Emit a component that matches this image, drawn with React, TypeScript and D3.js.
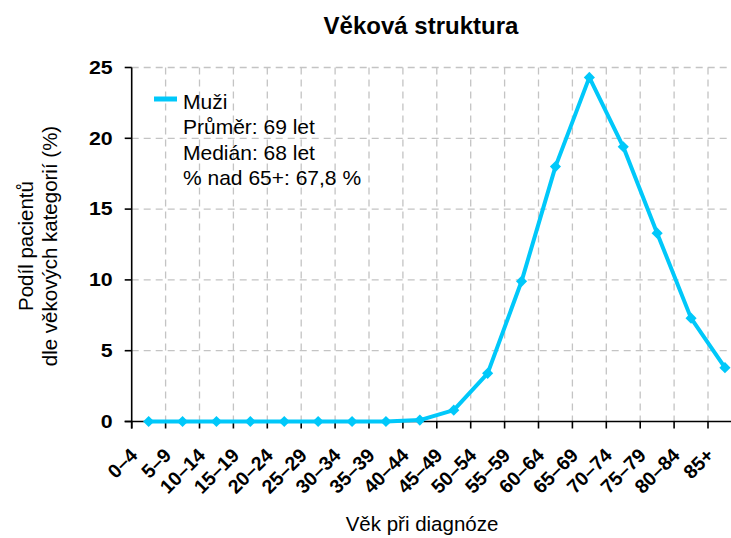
import React, { useEffect, useRef } from "react";
import * as d3 from "d3";

const categories = [
  "0–4", "5–9", "10–14", "15–19", "20–24", "25–29", "30–34", "35–39", "40–44",
  "45–49", "50–54", "55–59", "60–64", "65–69", "70–74", "75–79", "80–84", "85+",
];
const muzi = [0, 0, 0, 0, 0, 0, 0, 0, 0.1, 0.8, 3.4, 9.9, 18.0, 24.3, 19.4, 13.3, 7.3, 3.8];
const yTicks = [0, 5, 10, 15, 20, 25];
const legendLines = ["Průměr: 69 let", "Medián: 68 let", "% nad 65+: 67,8 %"];

const LINE_COLOR = "#00c8fa";
const GRID_COLOR = "#c4c4c4";
const FONT = "'Liberation Sans', Arial, sans-serif";

const App = () => {
  const ref = useRef<SVGSVGElement>(null);

  useEffect(() => {
    const svg = d3.select(ref.current);
    svg.selectAll("*").remove();

    const W = 731;
    const H = 538;
    const left = 131.7;
    const right = left + 18 * 33.9;
    const top = 67.5;
    const bottom = 421.5;

    svg.attr("width", W).attr("height", H).style("font-family", FONT);

    const x = d3.scaleBand().domain(categories).range([left, right]).padding(0);
    const y = d3.scaleLinear().domain([0, 25]).range([bottom, top]);
    const bw = x.bandwidth();

    // grid
    const grid = svg.append("g").attr("stroke", GRID_COLOR).attr("stroke-width", 1.3).attr("stroke-dasharray", "7,5");
    grid
      .selectAll("line.h")
      .data(yTicks.filter((t) => t > 0))
      .enter()
      .append("line")
      .attr("x1", left)
      .attr("x2", right)
      .attr("y1", (d) => y(d))
      .attr("y2", (d) => y(d));
    grid
      .selectAll("line.v")
      .data(categories.slice(1))
      .enter()
      .append("line")
      .attr("x1", (d) => x(d)!)
      .attr("x2", (d) => x(d)!)
      .attr("y1", top)
      .attr("y2", bottom);

    // axes
    const ax = svg.append("g").attr("stroke", "#000").attr("stroke-width", 1.6);
    ax.append("line").attr("x1", left).attr("x2", left).attr("y1", top).attr("y2", bottom + 7);
    ax.append("line").attr("x1", left - 7).attr("x2", right).attr("y1", bottom).attr("y2", bottom);
    ax.selectAll("line.yt")
      .data(yTicks)
      .enter()
      .append("line")
      .attr("x1", left - 7)
      .attr("x2", left)
      .attr("y1", (d) => y(d))
      .attr("y2", (d) => y(d));
    ax.selectAll("line.xt")
      .data(categories)
      .enter()
      .append("line")
      .attr("x1", (d) => x(d)!)
      .attr("x2", (d) => x(d)!)
      .attr("y1", bottom)
      .attr("y2", bottom + 7);

    svg
      .append("g")
      .selectAll("text")
      .data(yTicks)
      .enter()
      .append("text")
      .attr("transform", (d) => `translate(${left - 19},${y(d)}) scale(1.22,1)`)
      .attr("dy", "0.36em")
      .attr("text-anchor", "end")
      .attr("font-size", 17.5)
      .attr("font-weight", "bold")
      .text((d) => d);

    svg
      .append("g")
      .selectAll("text")
      .data(categories)
      .enter()
      .append("text")
      .attr("transform", (d) => `translate(${x(d)! + bw / 2 - 10},${bottom + 35}) rotate(-45)`)
      .attr("text-anchor", "end")
      .attr("font-size", 19.5)
      .attr("font-weight", "bold")
      .text((d) => d);

    // line + markers
    const pts = categories.map((c, i) => [x(c)! + bw / 2, y(muzi[i])] as [number, number]);
    svg
      .append("path")
      .attr("d", d3.line()(pts))
      .attr("fill", "none")
      .attr("stroke", LINE_COLOR)
      .attr("stroke-width", 4)
      .attr("stroke-linejoin", "round");
    svg
      .append("g")
      .selectAll("path")
      .data(pts)
      .enter()
      .append("path")
      .attr("d", d3.symbol(d3.symbolSquare, 62)())
      .attr("transform", (d) => `translate(${d[0]},${d[1]}) rotate(45)`)
      .attr("fill", LINE_COLOR);

    // legend
    svg
      .append("line")
      .attr("x1", 154)
      .attr("x2", 177)
      .attr("y1", 99)
      .attr("y2", 99)
      .attr("stroke", LINE_COLOR)
      .attr("stroke-width", 5);
    svg
      .append("g")
      .selectAll("text")
      .data(["Muži", ...legendLines])
      .enter()
      .append("text")
      .attr("x", 183)
      .attr("y", (d, i) => 108.5 + i * 25.5)
      .attr("font-size", 21)
      .text((d) => d);

    // titles
    svg
      .append("text")
      .attr("x", 421)
      .attr("y", 34)
      .attr("text-anchor", "middle")
      .attr("font-size", 24)
      .attr("font-weight", "bold")
      .text("Věková struktura");
    svg
      .append("text")
      .attr("x", 422)
      .attr("y", 531)
      .attr("text-anchor", "middle")
      .attr("font-size", 20.5)
      .text("Věk při diagnóze");
    const yt = svg.append("text").attr("transform", "translate(0,246) rotate(-90)").attr("text-anchor", "middle").attr("font-size", 20.5);
    yt.append("tspan").attr("x", 0).attr("y", 33).text("Podíl pacientů");
    yt.append("tspan").attr("x", 0).attr("y", 57).text("dle věkových kategorií (%)");
  }, []);

  return <svg ref={ref} style={{ position: "absolute", left: 0, top: 0, display: "block" }}></svg>;
};

export default App;
